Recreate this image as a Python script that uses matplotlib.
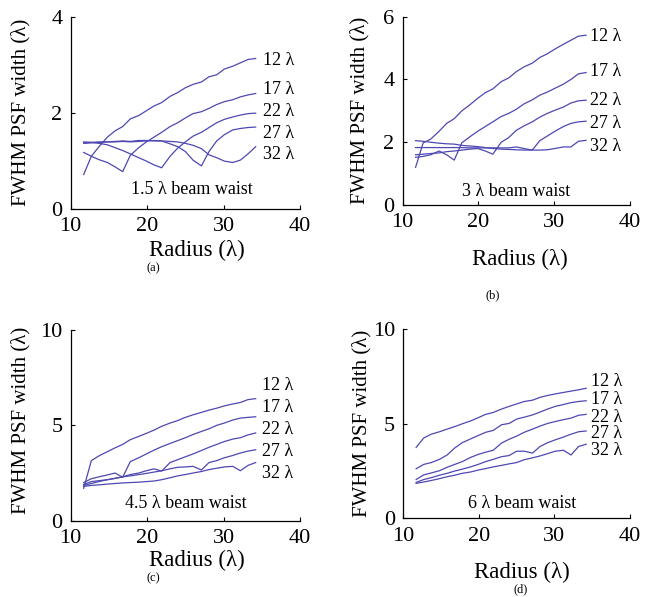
import matplotlib
matplotlib.use("Agg")
import matplotlib.pyplot as plt

plt.rcParams['font.family'] = ['Liberation Serif', 'DejaVu Serif']
plt.rcParams['mathtext.fontset'] = 'stix'

radius = [11.7, 12.7, 13.7, 14.8, 15.8, 16.8, 17.8, 18.9, 19.9, 20.9, 21.9, 23.0,
          24.0, 25.0, 26.0, 27.1, 28.1, 29.1, 30.1, 31.2, 32.2, 33.2, 34.2]

focus_labels = ["12 λ", "17 λ", "22 λ", "27 λ", "32 λ"]
waist_labels = ["1.5 λ beam waist", "3 λ beam waist", "4.5 λ beam waist", "6 λ beam waist"]
panel_tags = ["(a)", "(b)", "(c)", "(d)"]

# Panel (a): 1.5 lambda beam waist
a_12 = [0.72, 1.10, 1.30, 1.50, 1.63, 1.72, 1.88, 1.95, 2.05, 2.15, 2.22, 2.35, 2.43, 2.53, 2.60, 2.65, 2.76, 2.80, 2.92, 2.98, 3.05, 3.12, 3.14]
a_17 = [1.18, 1.10, 1.03, 0.97, 0.88, 0.78, 1.12, 1.28, 1.40, 1.50, 1.60, 1.72, 1.80, 1.90, 1.99, 2.03, 2.10, 2.18, 2.24, 2.28, 2.34, 2.38, 2.41]
a_22 = [1.40, 1.39, 1.37, 1.34, 1.28, 1.22, 1.15, 1.07, 1.00, 0.92, 0.86, 1.10, 1.27, 1.40, 1.52, 1.60, 1.70, 1.80, 1.87, 1.92, 1.96, 1.99, 2.00]
a_27 = [1.38, 1.39, 1.40, 1.40, 1.41, 1.42, 1.41, 1.43, 1.43, 1.42, 1.42, 1.36, 1.30, 1.20, 1.02, 0.90, 1.20, 1.42, 1.55, 1.65, 1.68, 1.70, 1.71]
a_32 = [1.37, 1.38, 1.39, 1.40, 1.40, 1.41, 1.40, 1.41, 1.42, 1.43, 1.42, 1.41, 1.40, 1.37, 1.33, 1.26, 1.13, 1.07, 1.00, 0.97, 1.02, 1.15, 1.30]

# Panel (b): 3 lambda beam waist
b_12 = [1.20, 1.98, 2.10, 2.35, 2.60, 2.75, 3.00, 3.20, 3.40, 3.58, 3.70, 3.93, 4.05, 4.25, 4.40, 4.52, 4.70, 4.82, 4.97, 5.12, 5.25, 5.38, 5.41]
b_17 = [1.52, 1.55, 1.60, 1.72, 1.60, 1.43, 1.98, 2.18, 2.35, 2.50, 2.65, 2.82, 2.92, 3.05, 3.22, 3.35, 3.50, 3.60, 3.72, 3.85, 4.00, 4.18, 4.22]
b_22 = [1.60, 1.62, 1.64, 1.66, 1.70, 1.72, 1.75, 1.78, 1.80, 1.72, 1.62, 2.00, 2.15, 2.38, 2.52, 2.65, 2.80, 2.92, 3.02, 3.12, 3.25, 3.32, 3.34]
b_27 = [1.83, 1.83, 1.83, 1.83, 1.83, 1.83, 1.83, 1.82, 1.82, 1.82, 1.82, 1.82, 1.82, 1.85, 1.80, 1.75, 2.05, 2.20, 2.35, 2.50, 2.60, 2.65, 2.67]
b_32 = [2.05, 2.03, 2.00, 1.97, 1.95, 1.94, 1.90, 1.88, 1.86, 1.83, 1.80, 1.78, 1.77, 1.76, 1.75, 1.75, 1.75, 1.76, 1.80, 1.85, 1.85, 2.03, 2.06]

# Panel (c): 4.5 lambda beam waist
c_12 = [1.70, 3.15, 3.40, 3.62, 3.82, 4.00, 4.25, 4.42, 4.58, 4.75, 4.95, 5.12, 5.25, 5.42, 5.55, 5.68, 5.80, 5.90, 6.02, 6.12, 6.20, 6.35, 6.40]
c_17 = [2.00, 2.20, 2.30, 2.40, 2.50, 2.28, 3.10, 3.30, 3.50, 3.70, 3.88, 4.05, 4.20, 4.35, 4.52, 4.68, 4.82, 5.00, 5.12, 5.28, 5.38, 5.42, 5.45]
c_22 = [1.90, 2.05, 2.10, 2.15, 2.22, 2.30, 2.42, 2.50, 2.62, 2.72, 2.60, 3.05, 3.20, 3.35, 3.50, 3.68, 3.85, 4.00, 4.15, 4.28, 4.35, 4.50, 4.60]
c_27 = [1.85, 1.95, 2.05, 2.15, 2.22, 2.30, 2.35, 2.42, 2.48, 2.55, 2.62, 2.72, 2.80, 2.82, 2.85, 2.66, 3.05, 3.15, 3.30, 3.42, 3.55, 3.65, 3.72]
c_32 = [1.80, 1.85, 1.88, 1.92, 1.95, 1.98, 2.00, 2.02, 2.05, 2.08, 2.15, 2.25, 2.35, 2.42, 2.50, 2.58, 2.68, 2.75, 2.82, 2.85, 2.62, 2.90, 3.05]

# Panel (d): 6 lambda beam waist
d_12 = [3.75, 4.25, 4.45, 4.58, 4.72, 4.85, 5.00, 5.15, 5.32, 5.50, 5.60, 5.78, 5.92, 6.05, 6.18, 6.25, 6.40, 6.50, 6.58, 6.66, 6.73, 6.80, 6.88]
d_17 = [2.62, 2.85, 2.95, 3.12, 3.35, 3.72, 4.00, 4.20, 4.38, 4.55, 4.65, 4.95, 5.02, 5.25, 5.35, 5.47, 5.62, 5.78, 5.92, 6.02, 6.12, 6.18, 6.22]
d_22 = [2.05, 2.30, 2.40, 2.52, 2.70, 2.85, 3.00, 3.22, 3.38, 3.50, 3.60, 3.98, 4.18, 4.35, 4.55, 4.72, 4.88, 5.02, 5.12, 5.22, 5.30, 5.45, 5.50]
d_27 = [1.90, 2.05, 2.15, 2.28, 2.38, 2.50, 2.60, 2.72, 2.85, 3.00, 3.12, 3.26, 3.32, 3.55, 3.55, 3.45, 3.80, 4.00, 4.15, 4.30, 4.45, 4.58, 4.62]
d_32 = [1.85, 1.92, 2.00, 2.10, 2.20, 2.28, 2.38, 2.45, 2.55, 2.63, 2.72, 2.80, 2.88, 2.95, 3.10, 3.20, 3.30, 3.42, 3.55, 3.60, 3.35, 3.80, 3.92]

panels = [
    [a_12, a_17, a_22, a_27, a_32],
    [b_12, b_17, b_22, b_27, b_32],
    [c_12, c_17, c_22, c_27, c_32],
    [d_12, d_17, d_22, d_27, d_32],
]
y_ticks = [[0, 2, 4], [0, 2, 4, 6], [0, 5, 10], [0, 5, 10]]
x_ticks = [10, 20, 30, 40]

# layout (pixels in 649x597 figure)
W, H = 649, 597
axes_px = [  # left, right, top, bottom
    (70.7, 300.0, 17.3, 209.0),
    (402.7, 630.0, 16.7, 205.0),
    (70.7, 300.0, 330.0, 520.7),
    (403.3, 630.0, 329.3, 518.3),
]
label_x = [35.2, 34.7, 35.0, 34.9]
label_y = [
    [3.10, 2.49, 2.03, 1.58, 1.13],
    [5.38, 4.25, 3.34, 2.60, 1.86],
    [7.09, 5.92, 4.77, 3.63, 2.49],
    [7.23, 6.31, 5.34, 4.50, 3.58],
]
waist_pos = [(25.8, 0.40), (25.0, 0.42), (25.0, 0.92), (25.7, 0.79)]
xlabel_px = [(196.7, 250), (520, 259), (196.7, 560), (522, 572)]
ylabel_px = [(21, 112), (360, 110), (21, 420), (362, 423)]
tag_px = [(153, 268), (493, 295), (153, 578), (521, 589)]

line_color = '#4d48b2'

fig = plt.figure(figsize=(W / 100, H / 100), dpi=100)
for i in range(4):
    l, r, t, b = axes_px[i]
    ax = fig.add_axes([l / W, 1 - b / H, (r - l) / W, (b - t) / H])
    for series in panels[i]:
        ax.plot(radius, series, color=line_color, lw=0.9)
    ax.set_xlim(10, 40)
    ax.set_ylim(y_ticks[i][0], y_ticks[i][-1])
    ax.set_xticks(x_ticks)
    ax.set_yticks(y_ticks[i])
    ax.spines['top'].set_visible(False)
    ax.spines['right'].set_visible(False)
    ax.spines['left'].set_linewidth(0.9)
    ax.spines['bottom'].set_linewidth(0.9)
    ax.tick_params(direction='in', length=3, width=0.8, labelsize=16, pad=6)
    ax.tick_params(axis='x', pad=6)
    for lab, ly in zip(focus_labels, label_y[i]):
        ax.text(label_x[i], ly, lab, fontsize=13, ha='left', va='center', clip_on=False)
    wx, wy = waist_pos[i]
    ax.text(wx, wy, waist_labels[i], fontsize=13, ha='center', va='center')
    fig.text(xlabel_px[i][0] / W, 1 - xlabel_px[i][1] / H, "Radius (λ)", fontsize=16.5,
             ha='center', va='center')
    fig.text(ylabel_px[i][0] / W, 1 - ylabel_px[i][1] / H, "FWHM PSF width (λ)", fontsize=15,
             ha='center', va='center', rotation=90)
    fig.text(tag_px[i][0] / W, 1 - tag_px[i][1] / H, panel_tags[i], fontsize=9,
             ha='center', va='center')

fig.savefig("out.png", dpi=100)
